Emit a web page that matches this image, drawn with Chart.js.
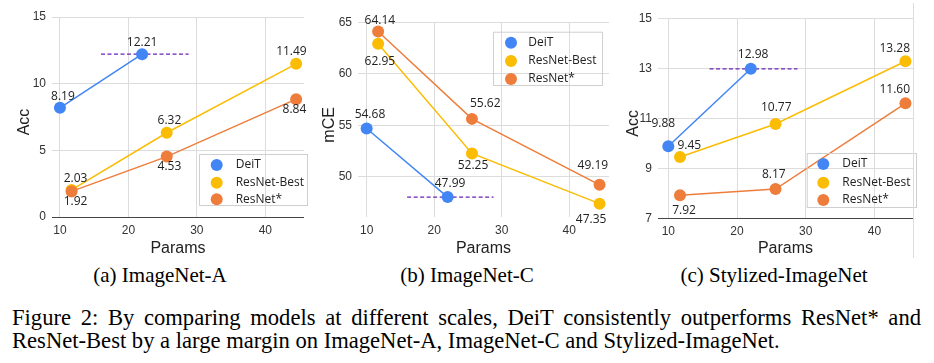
<!DOCTYPE html>
<html><head><meta charset="utf-8">
<script src="https://cdn.jsdelivr.net/npm/chart.js@4.4.0/dist/chart.umd.min.js"></script>
<style>
html,body{margin:0;padding:0;background:#fff;}
#wrap{position:relative;width:934px;height:363px;overflow:hidden;background:#fff;}
canvas{position:absolute;top:0;}
.sub{position:absolute;top:265px;font-family:"Liberation Serif","Times New Roman",serif;font-size:21px;line-height:21px;white-space:nowrap;transform:translateX(-50%);color:#000;}
.cap{position:absolute;left:12px;font-family:"Liberation Serif","Times New Roman",serif;font-size:22.6px;line-height:23px;white-space:nowrap;color:#000;}
</style></head><body>
<div id="wrap">
<canvas id="cA" width="310" height="262" style="left:0px"></canvas>
<canvas id="cB" width="305" height="262" style="left:310px"></canvas>
<canvas id="cC" width="319" height="262" style="left:615px"></canvas>
<div style="position:absolute;left:913px;top:3px;width:1px;height:255px;background:#dcdcdc"></div>
<div class="sub" style="left:160px">(a) ImageNet-A</div>
<div class="sub" style="left:467px">(b) ImageNet-C</div>
<div class="sub" style="left:774px">(c) Stylized-ImageNet</div>
<div class="cap" id="cap1" style="top:305.9px"><span id="cap1s">Figure 2: By comparing models at different scales, DeiT consistently outperforms ResNet* and</span></div>
<div class="cap" id="cap2" style="top:328.6px">ResNet-Best by a large margin on ImageNet-A, ImageNet-C and Stylized-ImageNet.</div>
</div>
<script>
// ---------- data ----------
const seriesNames = ['DeiT', 'ResNet-Best', 'ResNet*'];
const seriesColors = ['#4285F4', '#FBBC04', '#EE7D3B'];
const refColor = '#6A22B8';
const xTicks = [10, 20, 30, 40];
const deitParams = [10, 22];
const resnetParams = [11.7, 25.6, 44.5];
const refLineX = [16, 28.8];

// (a) ImageNet-A
const inA_deit = [8.19, 12.21];
const inA_best = [2.03, 6.32, 11.49];
const inA_star = [1.92, 4.53, 8.84];
const inA_yTicks = [0, 5, 10, 15];

// (b) ImageNet-C
const inC_deit = [54.68, 47.99];
const inC_best = [62.95, 52.25, 47.35];
const inC_star = [64.14, 55.62, 49.19];
const inC_yTicks = [50, 55, 60, 65];

// (c) Stylized-ImageNet
const sty_deit = [9.88, 12.98];
const sty_best = [9.45, 10.77, 13.28];
const sty_star = [7.92, 8.17, 11.60];
const sty_yTicks = [7, 9, 11, 13, 15];

// ---------- label placement (pixel offsets from each point) ----------
const inA_dx = {deit: [3, 0], best: [4, 2.7, -4.7], star: [4, 2.7, -1.7]};
const inA_dy = {deit: [-11, -11.7], best: [-11, -12.3, -12.3], star: [10, 10, 10.3]};
const inC_dx = {deit: [3.3, 2.4], best: [1.7, 1, -8.4], star: [1.7, 13.3, -6.7]};
const inC_dy = {deit: [-14.3, -13.4], best: [17.7, 12.4, 15.6], star: [-11, -15, -19.3]};
const sty_dx = {deit: [-5, 2.3], best: [9.3, 0.7, -10.7], star: [4, -1.7, -10.7]};
const sty_dy = {deit: [-22.3, -14.3], best: [-11, -16, -13], star: [15, -14.3, -13.3]};

function pts(xs, ys) { return xs.map((x, i) => ({x: x, y: ys[i]})); }

function makeChart(id, c) {
  const canvas = document.getElementById(id);
  const W = canvas.width, H = canvas.height;
  const overlay = {
    id: 'overlay' + id,
    afterDatasetsDraw(chart) {
      const ctx = chart.ctx;
      ctx.save();
      // data labels
      ctx.font = '12px "Open Sans"';
      ctx.fillStyle = '#222';
      ctx.textAlign = 'center';
      ctx.textBaseline = 'middle';
      const keys = ['deit', 'best', 'star'];
      keys.forEach((k, di) => {
        const meta = chart.getDatasetMeta(di);
        meta.data.forEach((el, i) => {
          const v = chart.data.datasets[di].data[i].y;
          ctx.fillText(v.toFixed(2), el.x + c.dx[k][i], el.y + c.dy[k][i]);
        });
      });
      // legend
      const L = c.legend;
      ctx.strokeStyle = '#cfcfcf';
      ctx.lineWidth = 1;
      ctx.strokeRect(L.left + 0.5, L.top + 0.5, L.right - L.left, L.bottom - L.top);
      ctx.textAlign = 'left';
      ctx.font = '12px "Open Sans"';
      seriesNames.forEach((n, i) => {
        ctx.fillStyle = seriesColors[i];
        ctx.beginPath();
        ctx.arc(L.cx, L.rows[i], 6, 0, Math.PI * 2);
        ctx.fill();
        ctx.fillStyle = '#222';
        ctx.fillText(n, L.tx, L.rows[i]);
      });
      // y title
      const a = chart.chartArea;
      ctx.translate(c.yTitleX, (a.top + a.bottom) / 2 + 5);
      ctx.rotate(-Math.PI / 2);
      ctx.textAlign = 'center';
      ctx.font = '16px "Liberation Sans"';
      ctx.fillStyle = '#222';
      ctx.fillText(c.yTitle, 0, 0);
      ctx.restore();
    }
  };
  const ds = (name, xs, ys, color, order) => ({
    label: name, data: pts(xs, ys), borderColor: color, backgroundColor: color,
    borderWidth: 1.5, pointRadius: 6, pointHoverRadius: 6, pointBorderWidth: 0,
    showLine: true, order: order
  });
  const refY = c.deit[c.deit.length - 1];
  return new Chart(canvas, {
    type: 'scatter',
    data: {
      datasets: [
        ds(seriesNames[0], deitParams, c.deit, seriesColors[0], 0),
        ds(seriesNames[1], resnetParams, c.best, seriesColors[1], 2),
        ds(seriesNames[2], resnetParams, c.star, seriesColors[2], 1),
        {label: 'ref', data: refLineX.map(x => ({x: x, y: refY})), borderColor: refColor,
         borderDash: [4, 2.5], borderWidth: 1.3, pointRadius: 0, showLine: true, order: 3}
      ]
    },
    options: {
      responsive: false, animation: false, devicePixelRatio: 1,
      layout: {padding: {left: 0, top: c.area.top, right: W - c.area.right, bottom: 0}},
      plugins: {legend: {display: false}, tooltip: {enabled: false}},
      scales: {
        x: {
          type: 'linear', min: c.xMin, max: c.xMax,
          afterBuildTicks: s => { s.ticks = xTicks.map(v => ({value: v})); },
          afterFit: s => { s.height = H - c.area.bottom; },
          grid: {color: '#dcdcdc', drawTicks: false, lineWidth: 1},
          border: {display: false},
          ticks: {padding: 6, color: '#333', font: {family: 'Liberation Sans', size: 12}},
          title: {display: true, text: 'Params', color: '#222',
                  font: {family: 'Liberation Sans', size: 16}, padding: {top: 0, bottom: 3.4}}
        },
        y: {
          type: 'linear', min: c.yMin, max: c.yMax,
          afterBuildTicks: s => { s.ticks = c.yTicks.map(v => ({value: v})); },
          afterFit: s => { s.width = c.area.left; },
          grid: {
            color: g => (c.baseline && g.tick && g.tick.value === c.yMin) ? '#444' : '#dcdcdc',
            drawTicks: false, lineWidth: 1
          },
          border: {display: false},
          ticks: {padding: 6, color: '#333', font: {family: 'Liberation Sans', size: 12}},
          title: {display: false}
        }
      }
    },
    plugins: [overlay]
  });
}

function build() {
  makeChart('cA', {
    deit: inA_deit, best: inA_best, star: inA_star, yTicks: inA_yTicks,
    yMin: 0, yMax: 15, xMin: 8.84, xMax: 45.65, baseline: true, yTitle: 'Acc', yTitleX: 25,
    area: {left: 52, top: 17, right: 307, bottom: 217},
    dx: inA_dx, dy: inA_dy,
    legend: {left: 199, top: 154, right: 307, bottom: 205, cx: 216.7, tx: 235.7, rows: [165, 182.7, 199.3]}
  });
  makeChart('cB', {
    deit: inC_deit, best: inC_best, star: inC_star, yTicks: inC_yTicks,
    yMin: 46.05, yMax: 65, xMin: 8.72, xMax: 45.9, baseline: false, yTitle: 'mCE', yTitleX: 20,
    area: {left: 48, top: 22.7, right: 300, bottom: 217},
    dx: inC_dx, dy: inC_dy,
    legend: {left: 183, top: 31.7, right: 292, bottom: 85, cx: 201, tx: 218.3, rows: [42.7, 61, 79]}
  });
  makeChart('cC', {
    deit: sty_deit, best: sty_best, star: sty_star, yTicks: sty_yTicks,
    yMin: 7, yMax: 15, xMin: 8.5, xMax: 45.6, baseline: true, yTitle: 'Acc', yTitleX: 19,
    area: {left: 43, top: 18.3, right: 298, bottom: 218.3},
    dx: sty_dx, dy: sty_dy,
    legend: {left: 191.7, top: 153, right: 301, bottom: 207, cx: 208.3, tx: 227.3, rows: [164, 182.7, 200]}
  });
  // justify first caption line to 909px
  const s = document.getElementById('cap1s');
  const w = s.getBoundingClientRect().width;
  const spaces = (s.textContent.match(/ /g) || []).length;
  s.style.wordSpacing = ((909 - w) / spaces) + 'px';
}
if (document.fonts && document.fonts.ready) { document.fonts.ready.then(build); } else { build(); }
</script>
</body></html>
